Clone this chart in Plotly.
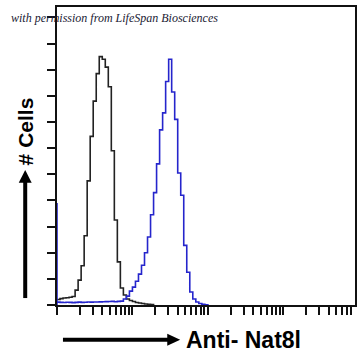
import plotly.graph_objects as go

# ---- data (log10 bins of 0.04 decades starting at channel value 1) ----
bin_step_decades = 0.04
isotype_counts = [4.2, 4.9, 5.3, 5.5, 5.9, 6.5, 11.4, 19, 30, 53, 95, 129, 156, 177,
                  190, 188, 182, 167, 118, 65, 33, 13, 7.6, 4.6, 3.4, 2.7, 1.9, 1.5,
                  1.1, 0.8, 0.5, 0.3, 0]
antibody_edge_count = 78
antibody_counts = [2.2, 2.0, 1.9, 2.1, 2.0, 1.8, 2.0, 2.2, 2.0, 2.1, 2.3, 2.2, 2.3,
                   2.3, 2.4, 2.5, 2.6, 2.7, 2.8, 2.5, 2.8, 3.0, 4.6, 6.8, 10.6, 13.7,
                   18.2, 23.6, 30.4, 40, 52, 69, 86, 108, 134, 147, 171, 188, 163,
                   142, 101, 84, 45.6, 25, 10, 4.6, 2.3, 1.1, 0.5, 0.2, 0]
x_label = "Anti- Nat8l"
y_label = "# Cells"
watermark = "with permission from LifeSpan Biosciences"

W, H = 362, 363
ML, MR, MT, MB = 57, 5, 5, 58
PW, PH = W - ML - MR, H - MT - MB


def px(x):
    return (x - ML) / PW


def py(y):
    return (H - MB - y) / PH


def edges(n):
    return [10 ** (bin_step_decades * i) for i in range(n)]


fig = go.Figure()
fig.add_trace(go.Scatter(
    x=edges(len(isotype_counts)), y=isotype_counts, mode="lines",
    line=dict(color="#222222", width=1.6, shape="hv"), hoverinfo="skip"))
bx = [1, 1] + edges(len(antibody_counts))
by = [0, antibody_edge_count] + antibody_counts
fig.add_trace(go.Scatter(
    x=bx, y=by, mode="lines",
    line=dict(color="#2525cc", width=1.6, shape="hv"), hoverinfo="skip"))

fig.update_layout(
    width=W, height=H, margin=dict(l=ML, r=MR, t=MT, b=MB),
    paper_bgcolor="white", plot_bgcolor="white", showlegend=False,
    xaxis=dict(type="log", range=[0, 3.95], dtick=1, showticklabels=False,
               ticks="outside", ticklen=8, tickwidth=1.5, tickcolor="#111",
               showgrid=False, zeroline=False, showline=True, linecolor="#111",
               linewidth=2, mirror=True,
               minor=dict(ticks="outside", ticklen=8, tickwidth=1.5,
                          tickcolor="#111", dtick="D1", showgrid=False)),
    yaxis=dict(range=[0, 228], dtick=20, showticklabels=False,
               ticks="outside", ticklen=8, tickwidth=1.5, tickcolor="#111",
               showgrid=False, zeroline=False, showline=True, linecolor="#111",
               linewidth=2, mirror=True, layer="below traces"),
)

# watermark
fig.add_annotation(text=watermark, xref="paper", yref="paper",
                   x=px(9), y=py(16), xanchor="left", yanchor="middle",
                   showarrow=False,
                   font=dict(family="Liberation Serif", size=12, color="#1a1a33",
                             style="italic"))
# y label
fig.add_annotation(text="<b>" + y_label + "</b>", xref="paper", yref="paper",
                   x=px(25), y=py(130), xanchor="center", yanchor="middle",
                   textangle=-90, showarrow=False,
                   font=dict(family="Liberation Sans", size=21, color="black"))
# x label
fig.add_annotation(text="<b>" + x_label + "</b>", xref="paper", yref="paper",
                   x=px(185), y=py(340), xanchor="left", yanchor="middle",
                   showarrow=False,
                   font=dict(family="Liberation Sans", size=23, color="black"))

# arrows
fig.add_shape(type="line", xref="paper", yref="paper",
              x0=px(25), x1=px(25), y0=py(298), y1=py(180),
              line=dict(color="black", width=4))
fig.add_shape(type="path", xref="paper", yref="paper",
              path=f"M {px(18.5)} {py(182)} L {px(31.5)} {py(182)} L {px(25)} {py(169)} Z",
              fillcolor="black", line=dict(color="black", width=0))
fig.add_shape(type="line", xref="paper", yref="paper",
              x0=px(63), x1=px(170), y0=py(340), y1=py(340),
              line=dict(color="black", width=4))
fig.add_shape(type="path", xref="paper", yref="paper",
              path=f"M {px(168)} {py(334)} L {px(168)} {py(346)} L {px(181)} {py(340)} Z",
              fillcolor="black", line=dict(color="black", width=0))

fig.write_html("out.html")
